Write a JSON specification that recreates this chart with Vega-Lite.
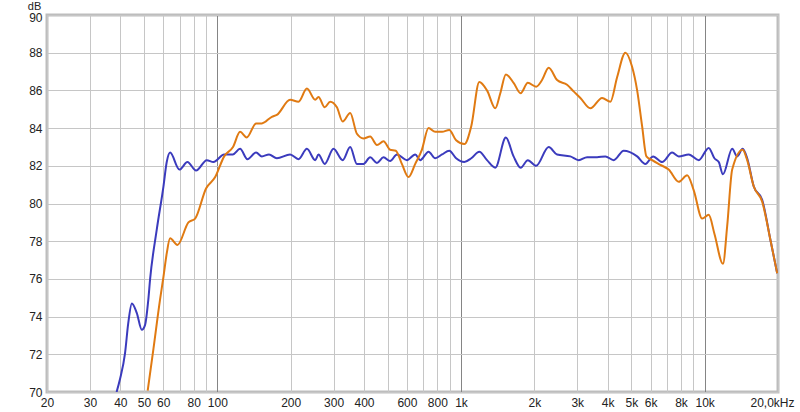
{
  "$schema": "https://vega.github.io/schema/vega-lite/v6.json",
  "width": 731,
  "height": 377,
  "autosize": "none",
  "padding": {"left": 47, "top": 15, "right": 22, "bottom": 20},
  "background": "white",
  "config": {
    "view": {"stroke": "#bdbdbd", "strokeWidth": 3},
    "font": "Liberation Sans",
    "axis": {"labelFont": "Liberation Sans", "labelFontSize": 12, "labelColor": "#222222", "titleFont": "Liberation Sans", "titleFontSize": 11, "titleFontWeight": "normal", "titleColor": "#222222", "domain": false, "ticks": false, "labelOverlap": false, "labelFlush": false}
  },
  "data": {"values": [
    {"s":"A","f":38.6,"db":70.0},{"s":"A","f":39.9,"db":70.7},{"s":"A","f":41.8,"db":72.05},{"s":"A","f":43.1,"db":73.65},{"s":"A","f":44.6,"db":74.7},{"s":"A","f":46.7,"db":74.2},{"s":"A","f":49.0,"db":73.3},{"s":"A","f":50.5,"db":73.55},{"s":"A","f":52.1,"db":74.9},{"s":"A","f":53.0,"db":76.0},{"s":"A","f":56.4,"db":78.6},{"s":"A","f":60.1,"db":80.9},{"s":"A","f":62.0,"db":82.2},{"s":"A","f":64.0,"db":82.7},{"s":"A","f":69.9,"db":81.8},{"s":"A","f":75.4,"db":82.2},{"s":"A","f":81.8,"db":81.75},{"s":"A","f":90.5,"db":82.3},{"s":"A","f":96.4,"db":82.2},{"s":"A","f":106.7,"db":82.6},{"s":"A","f":115.8,"db":82.6},{"s":"A","f":124,"db":82.9},{"s":"A","f":132.9,"db":82.35},{"s":"A","f":144.3,"db":82.7},{"s":"A","f":152.3,"db":82.5},{"s":"A","f":163,"db":82.6},{"s":"A","f":175.5,"db":82.4},{"s":"A","f":199,"db":82.6},{"s":"A","f":215.4,"db":82.35},{"s":"A","f":233.2,"db":82.9},{"s":"A","f":252.2,"db":82.3},{"s":"A","f":260.2,"db":82.6},{"s":"A","f":275.8,"db":82.1},{"s":"A","f":299.8,"db":82.9},{"s":"A","f":327,"db":82.3},{"s":"A","f":351,"db":83.0},{"s":"A","f":374,"db":82.1},{"s":"A","f":398,"db":82.1},{"s":"A","f":424,"db":82.45},{"s":"A","f":452,"db":82.15},{"s":"A","f":481,"db":82.45},{"s":"A","f":512,"db":82.25},{"s":"A","f":546,"db":82.6},{"s":"A","f":600,"db":82.3},{"s":"A","f":649,"db":82.6},{"s":"A","f":680,"db":82.3},{"s":"A","f":736,"db":82.75},{"s":"A","f":784,"db":82.4},{"s":"A","f":836,"db":82.6},{"s":"A","f":895,"db":82.8},{"s":"A","f":955,"db":82.4},{"s":"A","f":1032,"db":82.2},{"s":"A","f":1102,"db":82.4},{"s":"A","f":1189,"db":82.75},{"s":"A","f":1279,"db":82.3},{"s":"A","f":1383,"db":81.9},{"s":"A","f":1528,"db":83.5},{"s":"A","f":1644,"db":82.5},{"s":"A","f":1757,"db":81.9},{"s":"A","f":1881,"db":82.3},{"s":"A","f":2034,"db":82.0},{"s":"A","f":2290,"db":83.0},{"s":"A","f":2480,"db":82.6},{"s":"A","f":2810,"db":82.5},{"s":"A","f":3042,"db":82.3},{"s":"A","f":3292,"db":82.45},{"s":"A","f":3618,"db":82.45},{"s":"A","f":3914,"db":82.5},{"s":"A","f":4234,"db":82.3},{"s":"A","f":4654,"db":82.8},{"s":"A","f":5284,"db":82.5},{"s":"A","f":5712,"db":82.1},{"s":"A","f":6146,"db":82.5},{"s":"A","f":6690,"db":82.2},{"s":"A","f":7356,"db":82.7},{"s":"A","f":7828,"db":82.5},{"s":"A","f":8606,"db":82.6},{"s":"A","f":9458,"db":82.3},{"s":"A","f":10394,"db":82.95},{"s":"A","f":10966,"db":82.4},{"s":"A","f":11428,"db":82.2},{"s":"A","f":11890,"db":81.55},{"s":"A","f":12972,"db":82.9},{"s":"A","f":13598,"db":82.5},{"s":"A","f":14322,"db":82.9},{"s":"A","f":14946,"db":82.4},{"s":"A","f":15908,"db":80.9},{"s":"A","f":17222,"db":80.2},{"s":"A","f":18630,"db":78.05},{"s":"A","f":19848,"db":76.3},
    {"s":"B","f":51.8,"db":70.07},{"s":"B","f":54.7,"db":72.3},{"s":"B","f":58.2,"db":74.9},{"s":"B","f":60.1,"db":76.1},{"s":"B","f":62.0,"db":77.35},{"s":"B","f":64.0,"db":78.15},{"s":"B","f":68.6,"db":77.8},{"s":"B","f":76.1,"db":79.0},{"s":"B","f":81.1,"db":79.2},{"s":"B","f":89.9,"db":80.8},{"s":"B","f":98,"db":81.4},{"s":"B","f":106.7,"db":82.5},{"s":"B","f":116,"db":83.0},{"s":"B","f":124,"db":83.8},{"s":"B","f":132,"db":83.5},{"s":"B","f":144.3,"db":84.25},{"s":"B","f":152.3,"db":84.25},{"s":"B","f":167.4,"db":84.6},{"s":"B","f":175.5,"db":84.7},{"s":"B","f":199,"db":85.5},{"s":"B","f":215.4,"db":85.4},{"s":"B","f":233.2,"db":86.1},{"s":"B","f":252.2,"db":85.5},{"s":"B","f":260.2,"db":85.65},{"s":"B","f":275.8,"db":85.1},{"s":"B","f":290.6,"db":85.4},{"s":"B","f":309.6,"db":85.1},{"s":"B","f":327,"db":84.35},{"s":"B","f":351,"db":84.8},{"s":"B","f":374,"db":83.7},{"s":"B","f":398,"db":83.45},{"s":"B","f":424,"db":83.55},{"s":"B","f":452,"db":83.1},{"s":"B","f":481,"db":83.3},{"s":"B","f":512,"db":82.85},{"s":"B","f":540,"db":82.8},{"s":"B","f":572,"db":82.1},{"s":"B","f":609,"db":81.4},{"s":"B","f":649,"db":82.1},{"s":"B","f":691,"db":82.85},{"s":"B","f":736,"db":84.0},{"s":"B","f":784,"db":83.8},{"s":"B","f":836,"db":83.8},{"s":"B","f":895,"db":83.9},{"s":"B","f":955,"db":83.35},{"s":"B","f":1032,"db":83.15},{"s":"B","f":1102,"db":84.1},{"s":"B","f":1189,"db":86.45},{"s":"B","f":1279,"db":86.0},{"s":"B","f":1383,"db":85.05},{"s":"B","f":1450,"db":85.85},{"s":"B","f":1528,"db":86.85},{"s":"B","f":1644,"db":86.4},{"s":"B","f":1757,"db":85.85},{"s":"B","f":1881,"db":86.4},{"s":"B","f":2034,"db":86.2},{"s":"B","f":2151,"db":86.55},{"s":"B","f":2290,"db":87.2},{"s":"B","f":2480,"db":86.55},{"s":"B","f":2725,"db":86.3},{"s":"B","f":2900,"db":85.95},{"s":"B","f":3090,"db":85.6},{"s":"B","f":3396,"db":85.05},{"s":"B","f":3794,"db":85.6},{"s":"B","f":4104,"db":85.4},{"s":"B","f":4372,"db":86.7},{"s":"B","f":4728,"db":88.0},{"s":"B","f":5038,"db":87.25},{"s":"B","f":5284,"db":86.0},{"s":"B","f":5538,"db":84.1},{"s":"B","f":5768,"db":82.5},{"s":"B","f":6088,"db":82.3},{"s":"B","f":6584,"db":82.05},{"s":"B","f":7120,"db":81.8},{"s":"B","f":7828,"db":81.15},{"s":"B","f":8476,"db":81.5},{"s":"B","f":9022,"db":80.7},{"s":"B","f":9768,"db":79.2},{"s":"B","f":10394,"db":79.4},{"s":"B","f":10966,"db":78.4},{"s":"B","f":11890,"db":76.8},{"s":"B","f":12372,"db":78.8},{"s":"B","f":12972,"db":81.8},{"s":"B","f":14322,"db":82.85},{"s":"B","f":14946,"db":82.3},{"s":"B","f":15908,"db":80.9},{"s":"B","f":17222,"db":80.1},{"s":"B","f":18630,"db":78.05},{"s":"B","f":19848,"db":76.3}
  ]},
  "mark": {"type": "line", "interpolate": "monotone", "strokeWidth": 2, "clip": true},
  "encoding": {
    "x": {
      "field": "f", "type": "quantitative",
      "scale": {"type": "log", "domain": [20, 20000], "nice": false},
      "axis": {
        "title": null,
        "values": [20,30,40,50,60,70,80,90,100,200,300,400,500,600,700,800,900,1000,2000,3000,4000,5000,6000,7000,8000,9000,10000,20000],
        "labelExpr": "datum.value >= 20000 ? '20,0kHz' : (datum.value >= 1000 ? (indexof([1000,2000,3000,4000,5000,6000,8000,10000], datum.value) >= 0 ? (datum.value/1000) + 'k' : '') : (indexof([20,30,40,50,60,80,100,200,300,400,600,800], datum.value) >= 0 ? '' + datum.value : ''))",
        "labelOffset": {"condition": {"test": "datum.value >= 20000", "value": -6}, "value": 0},
        "labelPadding": 5,
        "gridColor": {"condition": {"test": "datum.value == 100 || datum.value == 1000 || datum.value == 10000", "value": "#858585"}, "value": "#c6c6c6"},
        "gridWidth": 1
      }
    },
    "y": {
      "field": "db", "type": "quantitative",
      "scale": {"domain": [70, 90], "nice": false, "zero": false},
      "axis": {
        "title": "dB", "titleAngle": 0, "titleX": -13, "titleY": -6, "titleAlign": "center", "titleBaseline": "alphabetic",
        "values": [70,72,74,76,78,80,82,84,86,88,90],
        "labelPadding": 5,
        "labelOffset": {"condition": {"test": "datum.value == 90", "value": 2}, "value": 0},
        "gridColor": "#c6c6c6"
      }
    },
    "color": {
      "field": "s", "type": "nominal", "legend": null,
      "scale": {"domain": ["A", "B"], "range": ["#3b3bbd", "#e07a12"]}
    }
  }
}
